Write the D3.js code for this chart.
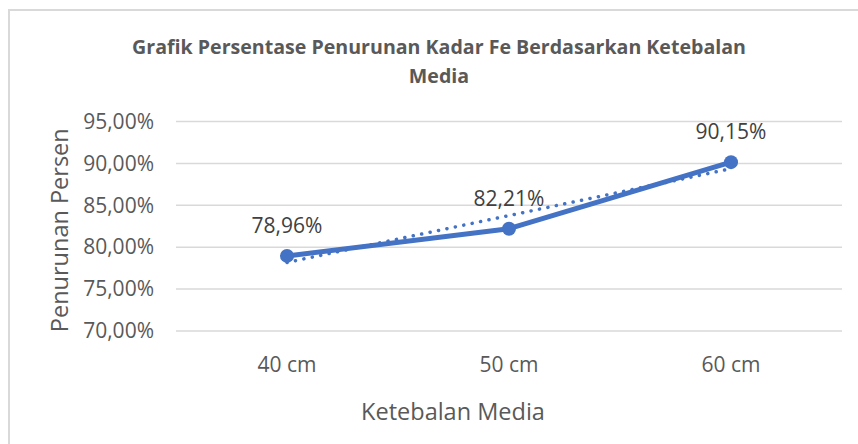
<!DOCTYPE html>
<html>
<head>
<meta charset="utf-8">
<script src="https://cdn.jsdelivr.net/npm/d3@7/dist/d3.min.js"></script>
<style>
  html, body { margin: 0; padding: 0; background: #fff; }
  svg { display: block; }
</style>
</head>
<body>
<svg id="chart" width="858" height="444"></svg>
<script>
// ---- data ----
const categories = ["40 cm", "50 cm", "60 cm"];
const values = [78.96, 82.21, 90.15];
const dataLabels = ["78,96%", "82,21%", "90,15%"];
const yTicks = [70, 75, 80, 85, 90, 95];
const yTickLabels = ["70,00%", "75,00%", "80,00%", "85,00%", "90,00%", "95,00%"];
const titleLines = ["Grafik Persentase Penurunan Kadar Fe Berdasarkan Ketebalan", "Media"];
const xTitle = "Ketebalan Media";
const yTitle = "Penurunan Persen";

// ---- layout ----
const W = 858, H = 444;
const plot = { left: 176, right: 842, top: 121.5, bottom: 331 };
const textColor = "#595959";
const lineColor = "#4472C4";
const font = "'Open Sans', 'Noto Sans', sans-serif";

const svg = d3.select("#chart");

// border of chart area
svg.append("rect")
  .attr("x", 9).attr("y", 10)
  .attr("width", W + 20).attr("height", H + 20)
  .attr("fill", "#fff")
  .attr("stroke", "#d9d9d9").attr("stroke-width", 2);

const x = d3.scaleBand().domain(categories).range([plot.left, plot.right]);
const y = d3.scaleLinear().domain([70, 95]).range([plot.bottom, plot.top]);

// gridlines
svg.append("g").selectAll("line").data(yTicks).join("line")
  .attr("x1", plot.left).attr("x2", plot.right)
  .attr("y1", d => y(d)).attr("y2", d => y(d))
  .attr("stroke", "#d9d9d9").attr("stroke-width", 1.5);

// y axis labels
const yAxis = d3.axisLeft(y).tickValues(yTicks)
  .tickFormat((d, i) => yTickLabels[i]).tickSize(0).tickPadding(0);
const gy = svg.append("g").attr("transform", `translate(154,0)`).call(yAxis);
gy.select(".domain").remove();
gy.selectAll("text").attr("fill", textColor).style("font-family", font).style("font-size", "21px");

// x axis labels
const xAxis = d3.axisBottom(x).tickSize(0).tickPadding(0);
const gx = svg.append("g").attr("transform", `translate(0,${plot.bottom + 26})`).call(xAxis);
gx.select(".domain").remove();
gx.selectAll("text").attr("fill", textColor).style("font-family", font).style("font-size", "21px");

const cx = c => x(c) + x.bandwidth() / 2;

// trendline (linear regression, dotted)
const n = values.length;
const xs = values.map((v, i) => i + 1);
const mx = d3.mean(xs), my = d3.mean(values);
const slope = d3.sum(xs.map((xi, i) => (xi - mx) * (values[i] - my))) / d3.sum(xs.map(xi => (xi - mx) ** 2));
const intercept = my - slope * mx;
const trend = categories.map((c, i) => [cx(c), y(intercept + slope * (i + 1))]);
svg.append("path")
  .attr("d", d3.line()([trend[0], trend[n - 1]]))
  .attr("fill", "none")
  .attr("stroke", lineColor).attr("stroke-width", 3.5)
  .attr("stroke-linecap", "round")
  .attr("stroke-dasharray", "0.1 8.5");

// main line
const pts = categories.map((c, i) => [cx(c), y(values[i])]);
svg.append("path")
  .attr("d", d3.line()(pts))
  .attr("fill", "none")
  .attr("stroke", lineColor).attr("stroke-width", 5)
  .attr("stroke-linejoin", "round");

svg.append("g").selectAll("circle").data(pts).join("circle")
  .attr("cx", d => d[0]).attr("cy", d => d[1]).attr("r", 7)
  .attr("fill", lineColor);

// data labels
svg.append("g").selectAll("text").data(pts).join("text")
  .attr("x", d => d[0]).attr("y", d => d[1] - 31)
  .attr("text-anchor", "middle").attr("dominant-baseline", "central")
  .attr("fill", "#404040")
  .style("font-family", font).style("font-size", "21px")
  .text((d, i) => dataLabels[i]);

// title
svg.append("g").selectAll("text").data(titleLines).join("text")
  .attr("x", 439).attr("y", (d, i) => 46 + i * 29)
  .attr("text-anchor", "middle").attr("dominant-baseline", "central")
  .attr("fill", textColor)
  .style("font-family", font).style("font-size", "19.6px").style("font-weight", "bold")
  .text(d => d);

// axis titles
svg.append("text")
  .attr("x", 453).attr("y", 411)
  .attr("text-anchor", "middle").attr("dominant-baseline", "central")
  .attr("fill", textColor)
  .style("font-family", font).style("font-size", "23.5px")
  .text(xTitle);

svg.append("text")
  .attr("transform", `translate(59,${(plot.top + plot.bottom) / 2 + 4}) rotate(-90)`)
  .attr("text-anchor", "middle").attr("dominant-baseline", "central")
  .attr("fill", textColor)
  .style("font-family", font).style("font-size", "23.5px")
  .text(yTitle);
</script>
</body>
</html>
